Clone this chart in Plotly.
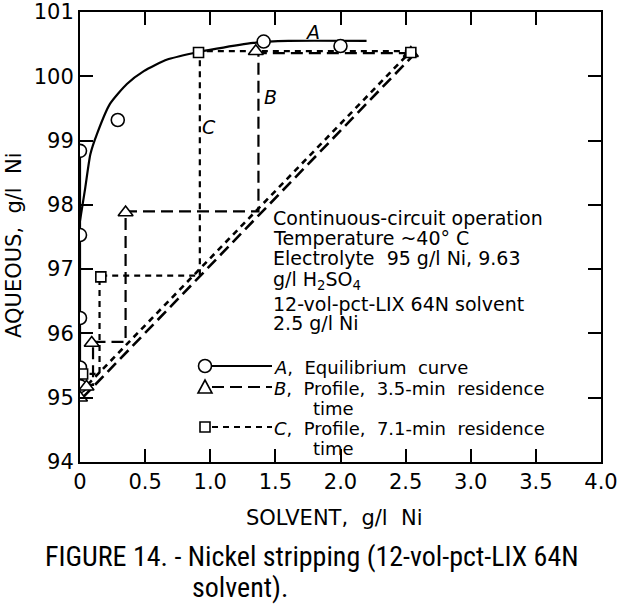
import plotly.graph_objects as go

# ---------------- data ----------------
# Curve A: equilibrium data points
A_pts_x = [0.0, 0.0, 0.0, 0.0, 0.0, 0.29, 1.41, 2.0]
A_pts_y = [95.18, 95.47, 96.24, 97.53, 98.84, 99.32, 100.54, 100.47]
# vertical solid segment joining the x=0 points
A_vert_x = [0.0, 0.0]
A_vert_y = [95.18, 98.84]
# smooth equilibrium curve
A_curve_x = [0.0, 0.04, 0.08, 0.13, 0.23, 0.36, 0.49, 0.67, 0.87, 1.05, 1.33, 1.6, 2.2]
A_curve_y = [97.75, 98.26, 98.79, 99.10, 99.57, 99.88, 100.08, 100.26, 100.36, 100.43, 100.52, 100.55, 100.55]

# Curve B: profile, 3.5-min residence time
B_pts_x = [2.54, 1.35, 0.35, 0.09, 0.05, 0.0]
B_pts_y = [100.36, 100.39, 97.88, 95.85, 95.17, 95.0]
B_step_x = [2.54, 1.37, 1.37, 0.35, 0.35, 0.10, 0.10, 0.05]
B_step_y = [100.36, 100.36, 97.90, 97.90, 95.87, 95.87, 95.20, 95.20]
B_op_x = [0.02, 2.56]
B_op_y = [95.0, 100.33]

# Curve C: profile, 7.1-min residence time
C_pts_x = [2.54, 0.91, 0.16, 0.02]
C_pts_y = [100.37, 100.37, 96.88, 95.37]
C_step_x = [2.54, 0.92, 0.92, 0.15, 0.15, 0.02]
C_step_y = [100.39, 100.39, 96.90, 96.90, 95.37, 95.37]
C_op_x = [0.0, 2.54]
C_op_y = [95.08, 100.39]

x_ticks = [0, 0.5, 1.0, 1.5, 2.0, 2.5, 3.0, 3.5, 4.0]
x_ticklabels = ["0", "0.5", "1.0", "1.5", "2.0", "2.5", "3.0", "3.5", "4.0"]
y_ticks = [94, 95, 96, 97, 98, 99, 100, 101]
y_ticklabels = ["94", "95", "96", "97", "98", "99", "100", "101"]

note_lines = [
    "Continuous-circuit operation",
    "Temperature ~40° C",
    "Electrolyte  95 g/l Ni, 9.63",
    "g/l H<sub>2</sub>SO<sub>4</sub>",
    "12-vol-pct-LIX 64N solvent",
    "2.5 g/l Ni",
]
legend_labels = [
    "<i>A</i>,  Equilibrium  curve",
    "<i>B</i>,  Profile,  3.5-min  residence",
    "<i>C</i>,  Profile,  7.1-min  residence",
]
legend_cont = ["", "time", "time"]

# ---------------- layout geometry ----------------
W, H = 618, 604
L, R, T, B = 80, 17, 12, 142
PW, PH = W - L - R, H - T - B
XR = [0, 4]
YR = [94, 101]


def dx(px):
    return XR[0] + (px - L) / PW * (XR[1] - XR[0])


def dy(py):
    return YR[0] + (T + PH - py) / PH * (YR[1] - YR[0])


FONT = "DejaVu Sans, sans-serif"
NARROW = "Liberation Sans Narrow, Roboto Condensed, Liberation Sans, sans-serif"
LW = 2.2
LONG = "12px,6px"
SHORT = "6px,5px"

fig = go.Figure()

# A
fig.add_trace(go.Scatter(x=A_vert_x, y=A_vert_y, mode="lines",
                         line=dict(color="black", width=LW), showlegend=False))
fig.add_trace(go.Scatter(x=A_curve_x, y=A_curve_y, mode="lines",
                         line=dict(color="black", width=LW, shape="spline", smoothing=0.6),
                         showlegend=False))
# B
fig.add_trace(go.Scatter(x=B_op_x, y=B_op_y, mode="lines",
                         line=dict(color="black", width=LW + 0.4, dash=LONG), showlegend=False))
fig.add_trace(go.Scatter(x=B_step_x, y=B_step_y, mode="lines",
                         line=dict(color="black", width=LW, dash=LONG), showlegend=False))
# C
fig.add_trace(go.Scatter(x=C_op_x, y=C_op_y, mode="lines",
                         line=dict(color="black", width=LW + 0.4, dash=SHORT), showlegend=False))
fig.add_trace(go.Scatter(x=C_step_x, y=C_step_y, mode="lines",
                         line=dict(color="black", width=LW, dash=SHORT), showlegend=False))

# markers
fig.add_trace(go.Scatter(x=A_pts_x, y=A_pts_y, mode="markers",
                         marker=dict(symbol="circle", size=13, color="white",
                                     line=dict(color="black", width=1.6)), showlegend=False))
fig.add_trace(go.Scatter(x=B_pts_x, y=B_pts_y, mode="markers",
                         marker=dict(symbol="triangle-up", size=13, color="white",
                                     line=dict(color="black", width=1.6)), showlegend=False))
fig.add_trace(go.Scatter(x=C_pts_x, y=C_pts_y, mode="markers",
                         marker=dict(symbol="square", size=10, color="white",
                                     line=dict(color="black", width=1.6)), showlegend=False))

annotations = []
# curve letters
for txt, px, py in [("A", 312, 32), ("B", 270, 97), ("C", 209, 127)]:
    annotations.append(dict(x=dx(px), y=dy(py), text="<i>%s</i>" % txt, showarrow=False,
                            font=dict(family=FONT, size=19, color="black")))

# note block
note_y = [218, 238, 258, 280, 304, 323]
for txt, py in zip(note_lines, note_y):
    annotations.append(dict(x=dx(271), y=dy(py), text=txt, showarrow=False, xanchor="left",
                            yanchor="middle", font=dict(family=FONT, size=19, color="black")))

# legend
shapes = []
leg_y = [366, 387, 427]
leg_dash = ["solid", LONG, SHORT]
for i, (lab, cont, py) in enumerate(zip(legend_labels, legend_cont, leg_y)):
    shapes.append(dict(type="line", x0=dx(212), x1=dx(272), y0=dy(py), y1=dy(py),
                       line=dict(color="black", width=LW, dash=leg_dash[i])))
    annotations.append(dict(x=dx(272), y=dy(py + 1), text=lab, showarrow=False, xanchor="left",
                            yanchor="middle", align="left",
                            font=dict(family=FONT, size=18, color="black")))
    if cont:
        annotations.append(dict(x=dx(311), y=dy(py + 21), text=cont, showarrow=False,
                                xanchor="left", yanchor="middle",
                                font=dict(family=FONT, size=18, color="black")))
# legend symbols
r = 6.5
shapes.append(dict(type="circle", x0=dx(205 - r), x1=dx(205 + r), y0=dy(366 + r), y1=dy(366 - r),
                   line=dict(color="black", width=1.6), fillcolor="white"))
tx, ty = 205, 387
shapes.append(dict(type="path",
                   path="M %f,%f L %f,%f L %f,%f Z" % (dx(tx - 7), dy(ty + 6), dx(tx + 7), dy(ty + 6),
                                                       dx(tx), dy(ty - 7)),
                   line=dict(color="black", width=1.6), fillcolor="white"))
shapes.append(dict(type="rect", x0=dx(200), x1=dx(210), y0=dy(432), y1=dy(422),
                   line=dict(color="black", width=1.6), fillcolor="white"))

# axis titles and caption
annotations.append(dict(xref="paper", yref="paper", x=(334 - L) / PW, y=(T + PH - 518) / PH,
                        text="SOLVENT,  g/l  Ni", showarrow=False, xanchor="center", yanchor="middle",
                        font=dict(family=FONT, size=21, color="black")))
annotations.append(dict(xref="paper", yref="paper", x=(14 - L) / PW, y=(T + PH - 245) / PH,
                        text="AQUEOUS,  g/l  Ni", showarrow=False, textangle=-90,
                        xanchor="center", yanchor="middle",
                        font=dict(family=FONT, size=21, color="black")))
annotations.append(dict(xref="paper", yref="paper", x=(43 - L) / PW, y=(T + PH - 556) / PH,
                        text="FIGURE 14. - Nickel stripping (12-vol-pct-LIX 64N", showarrow=False,
                        xanchor="left", yanchor="middle",
                        font=dict(family=NARROW, size=28, color="black")))
annotations.append(dict(xref="paper", yref="paper", x=(190 - L) / PW, y=(T + PH - 587) / PH,
                        text="solvent).", showarrow=False, xanchor="left", yanchor="middle",
                        font=dict(family=NARROW, size=28, color="black")))

axis_common = dict(showgrid=False, zeroline=False, showline=True, linecolor="black", linewidth=2,
                   mirror="ticks", ticks="inside", ticklen=13, tickwidth=1.5, tickcolor="black",
                   automargin=False,
                   tickfont=dict(family=FONT, size=21, color="black"))

fig.update_layout(
    width=W, height=H,
    margin=dict(l=L, r=R, t=T, b=B),
    paper_bgcolor="white", plot_bgcolor="white",
    showlegend=False,
    xaxis=dict(range=XR, tickvals=x_ticks, ticktext=x_ticklabels, **axis_common),
    yaxis=dict(range=YR, tickvals=y_ticks, ticktext=y_ticklabels, **axis_common),
    annotations=annotations,
    shapes=shapes,
)

fig.write_html("out.html")
